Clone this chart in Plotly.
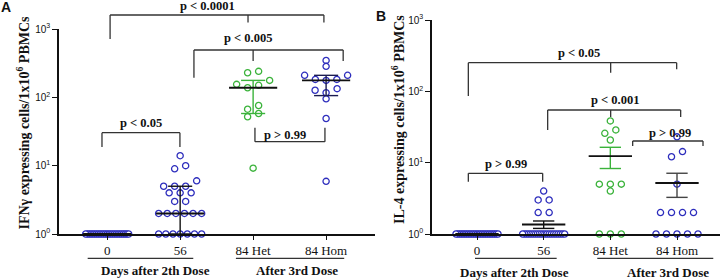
import numpy as np
import plotly.graph_objects as go

# ---------------- data ----------------
categories = ["0", "56", "84 Het", "84 Hom"]
group_labels = ["Days after 2th Dose", "After 3rd Dose"]
tick_vals_log = [0, 1, 2, 3]
tick_text = ["10<sup>0</sup>", "10<sup>1</sup>", "10<sup>2</sup>", "10<sup>3</sup>"]

# Panel A: IFNγ (median with interquartile range)
ifn_day0 = [1, 1, 1, 1, 1, 1, 1, 1, 1, 1, 1, 1, 1, 1, 1, 1, 1, 1, 1, 1, 1, 1, 1, 1, 1]
ifn_day56 = [14, 10, 9, 6, 5, 5, 5, 4, 4, 4, 3, 3, 2, 2, 2, 2, 2, 2, 1, 1, 1, 1, 1, 1, 1]
ifn_het = [240, 229, 177, 155, 150, 138, 76, 67, 58, 52, 9.2]
ifn_hom = [347, 284, 210, 210, 183, 183, 177, 134, 127, 117, 95, 49, 5.9]

# Panel B: IL-4 (mean ± SEM)
il4_day0 = [1, 1, 1, 1, 1, 1, 1, 1, 1, 1, 1, 1, 1, 1, 1, 1, 1, 1, 1, 1, 1, 1, 1, 1, 1]
il4_day56 = [4, 3, 3, 2, 2, 1, 1, 1, 1, 1, 1, 1, 1, 1, 1, 1, 1, 1, 1, 1, 1, 1, 1, 1, 1]
il4_het = [38.5, 28.8, 25.8, 20.8, 5, 5, 5, 4, 1, 1, 1]
il4_hom = [23, 14.3, 12.1, 5, 2, 2, 2, 2, 1, 1, 1, 1, 1]

# significance brackets: (text, x_left, x_right, y_bar(log10), legs [(x, y_end log10)], text x, text y log10)
brackets_a = [
    ("p < 0.0001", 0.04, 2.97, 3.205, [(0.04, 2.854), (1.93, 3.095), (2.97, 3.095)], 1.375, 3.34),
    ("p < 0.005", 1.189, 3.234, 2.693, [(1.189, 2.287), (2.0, 2.532), (3.234, 2.532)], 1.933, 2.864),
    ("p < 0.05", -0.071, 0.997, 1.4825, [(-0.071, 1.273), (0.997, 1.273)], 0.47, 1.62),
    ("p > 0.99", 2.025, 2.984, 1.351, [(2.025, 1.556), (2.984, 1.556)], 2.436, 1.449),
]
brackets_b = [
    ("p < 0.05", -0.13, 2.995, 2.4015, [(-0.13, 1.935), (2.005, 2.261), (2.995, 2.309)], 1.53, 2.533),
    ("p < 0.001", 1.06, 3.055, 1.738, [(1.06, 1.458), (2.005, 1.64), (3.055, 1.64)], 2.07, 1.879),
    ("p > 0.99", 2.335, 3.39, 1.304, [(2.335, 1.234), (3.39, 1.234)], 2.895, 1.412),
    ("p > 0.99", -0.13, 0.985, 0.851, [(-0.13, 0.733), (0.985, 0.733)], 0.43, 0.981),
]

# ---------------- styles / layout ----------------
W, H = 721, 280
BLUE = "#2e2ebd"
GREEN = "#3bb33b"
BLACK = "#111111"
SERIF = "Liberation Serif"
SANS = "Liberation Sans"


def px2px(x):
    return x / W


def py2py(y):
    return 1 - y / H


# axis geometry (pixels)
xdom_a = [px2px(59), px2px(375)]
xrng_a = [-0.66, 3.67]
ydom_a = [py2py(234), py2py(29)]
xdom_b = [px2px(432), px2px(720)]
xrng_b = [-0.675, 3.645]
ydom_b = [py2py(234), py2py(20)]

ppu_a = (375 - 59) / (xrng_a[1] - xrng_a[0])
ppu_b = (720 - 432) / (xrng_b[1] - xrng_b[0])
ppd_a = (234 - 29) / 3
ppd_b = (234 - 20) / 3


def swarm_offsets(values, ppd, ppu, spacing_px=11, max_w_px=43, tol_px=5.5, span_px=7.5):
    vals = np.asarray(values, float)
    order = np.argsort(-vals, kind="stable")
    ypx = np.log10(vals) * ppd
    rows, cur = [], []
    for i in order:
        if cur and (ypx[cur[-1]] - ypx[i] > tol_px or ypx[cur[0]] - ypx[i] > span_px):
            rows.append(cur)
            cur = []
        cur.append(i)
    rows.append(cur)
    off = np.zeros(len(vals))
    for row in rows:
        n = len(row)
        if n == 1:
            continue
        s = min(spacing_px, max_w_px / (n - 1))
        slots = (np.arange(n) - (n - 1) / 2) * s
        slot_order = sorted(range(n), key=lambda k: (abs(slots[k]), slots[k]))
        row_sorted = sorted(row, key=lambda i: vals[i])
        for idx, k in zip(row_sorted, slot_order):
            off[idx] = slots[k] / ppu
    return off


fig = go.Figure()


def add_points(vals, cat_idx, color, xa, ya, ppd, ppu, max_w):
    off = swarm_offsets(vals, ppd, ppu, max_w_px=max_w)
    fig.add_trace(go.Scatter(
        x=cat_idx + off, y=vals, mode="markers", xaxis=xa, yaxis=ya,
        marker=dict(symbol="circle", size=6.2, color="white", line=dict(color=color, width=1.3)),
        cliponaxis=False, hoverinfo="skip"))


def add_summary(center, lo, hi, cat_idx, whisk_color, xa, ya, half_c=0.33, half_cap=0.165):
    xs = [cat_idx, cat_idx, None, cat_idx - half_cap, cat_idx + half_cap, None,
          cat_idx - half_cap, cat_idx + half_cap]
    ys = [lo, hi, None, lo, lo, None, hi, hi]
    fig.add_trace(go.Scatter(x=xs, y=ys, mode="lines", xaxis=xa, yaxis=ya,
                             line=dict(color=whisk_color, width=1.4), hoverinfo="skip"))
    fig.add_trace(go.Scatter(x=[cat_idx - half_c, cat_idx + half_c], y=[center, center],
                             mode="lines", xaxis=xa, yaxis=ya,
                             line=dict(color=BLACK, width=1.9), hoverinfo="skip"))


# Panel A
a_groups = [(ifn_day0, BLUE, BLACK), (ifn_day56, BLUE, BLACK), (ifn_het, GREEN, GREEN), (ifn_hom, BLUE, "#1b1b50")]
for i, (vals, col, wcol) in enumerate(a_groups):
    add_points(vals, i, col, "x", "y", ppd_a, ppu_a, 43)
for i, (vals, col, wcol) in enumerate(a_groups):
    q1, med, q3 = np.percentile(vals, [25, 50, 75], method="weibull")
    add_summary(med, q1, q3, i, wcol, "x", "y", half_c=0.33, half_cap=0.165)

# Panel B
b_groups = [(il4_day0, BLUE, BLACK), (il4_day56, BLUE, BLACK), (il4_het, GREEN, GREEN), (il4_hom, BLUE, "#444444")]
for i, (vals, col, wcol) in enumerate(b_groups):
    add_points(vals, i, col, "x2", "y2", ppd_b, ppu_b, 42)
for i, (vals, col, wcol) in enumerate(b_groups):
    v = np.asarray(vals, float)
    m = v.mean()
    sem = v.std(ddof=1) / np.sqrt(len(v))
    add_summary(m, m - sem, m + sem, i, wcol, "x2", "y2", half_c=0.325, half_cap=0.16)

axis_common = dict(showgrid=False, zeroline=False, showline=True, linecolor=BLACK,
                   linewidth=1.5, ticks="outside", tickcolor=BLACK, automargin=False)

fig.update_layout(
    width=W, height=H, margin=dict(l=0, r=0, t=0, b=0),
    paper_bgcolor="white", plot_bgcolor="white", showlegend=False,
    xaxis=dict(domain=xdom_a, range=xrng_a, anchor="y", tickvals=[0, 1, 2, 3], ticktext=categories,
               ticklen=4, tickwidth=1.3, tickfont=dict(family=SERIF, size=13, color=BLACK), **axis_common),
    yaxis=dict(domain=ydom_a, range=[0, 3], type="log", anchor="x", tickvals=[10 ** t for t in tick_vals_log],
               ticktext=tick_text, ticklen=5, tickwidth=1.3,
               tickfont=dict(family=SANS, size=10, color=BLACK), **axis_common),
    xaxis2=dict(domain=xdom_b, range=xrng_b, anchor="y2", tickvals=[0, 1, 2, 3], ticktext=categories,
                ticklen=4, tickwidth=1.3, tickfont=dict(family=SERIF, size=13, color=BLACK), **axis_common),
    yaxis2=dict(domain=ydom_b, range=[0, 3], type="log", anchor="x2", tickvals=[10 ** t for t in tick_vals_log],
                ticktext=tick_text, ticklen=5, tickwidth=1.3,
                tickfont=dict(family=SANS, size=10, color=BLACK), **axis_common),
)


def ypaper(dom, logv):
    return dom[0] + logv / 3 * (dom[1] - dom[0])


shapes, annots = [], []
LINE = dict(color="#333333", width=1.3)
for brs, xr, dom in ((brackets_a, "x", ydom_a), (brackets_b, "x2", ydom_b)):
    for text, x0, x1, yb, legs, tx, ty in brs:
        shapes.append(dict(type="line", xref=xr, yref="paper", x0=x0, x1=x1,
                           y0=ypaper(dom, yb), y1=ypaper(dom, yb), line=LINE))
        for lx, ly in legs:
            shapes.append(dict(type="line", xref=xr, yref="paper", x0=lx, x1=lx,
                               y0=ypaper(dom, yb), y1=ypaper(dom, ly), line=LINE))
        annots.append(dict(text="<b>" + text + "</b>", xref=xr, yref="paper", x=tx, y=ypaper(dom, ty),
                           showarrow=False, xanchor="center", yanchor="middle",
                           font=dict(family=SERIF, size=12.5, color=BLACK)))

# group underlines and labels
groups_a = [(-0.267, 1.18, 0.663), (1.764, 3.248, 2.607)]
groups_b = [(-0.03, 1.195, 0.566), (1.804, 3.544, 2.87)]
for grp, xr, ly in ((groups_a, "x", 270.5), (groups_b, "x2", 272.5)):
    for (g0, g1, gc), lab in zip(grp, group_labels):
        shapes.append(dict(type="line", xref=xr, yref="paper", x0=g0, x1=g1,
                           y0=py2py(258.3), y1=py2py(258.3), line=dict(color="#333333", width=1.2)))
        annots.append(dict(text="<b>" + lab + "</b>", xref=xr, yref="paper", x=gc, y=py2py(ly),
                           showarrow=False, xanchor="center", yanchor="middle",
                           font=dict(family=SERIF, size=13, color=BLACK)))

# y-axis titles
annots.append(dict(text="<b>IFNγ expressing cells/1x10<sup>6</sup> PBMCs</b>", xref="paper", yref="paper",
                   x=px2px(23), y=py2py(122.5), textangle=-90, showarrow=False,
                   xanchor="center", yanchor="middle", font=dict(family=SERIF, size=14, color=BLACK)))
annots.append(dict(text="<b>IL-4 expressing cells/1x10<sup>6</sup> PBMCs</b>", xref="paper", yref="paper",
                   x=px2px(398), y=py2py(120), textangle=-90, showarrow=False,
                   xanchor="center", yanchor="middle", font=dict(family=SERIF, size=14, color=BLACK)))

# panel letters
annots.append(dict(text="<b>A</b>", xref="paper", yref="paper", x=px2px(6), y=py2py(7), showarrow=False,
                   xanchor="center", yanchor="middle", font=dict(family=SANS, size=14, color=BLACK)))
annots.append(dict(text="<b>B</b>", xref="paper", yref="paper", x=px2px(381), y=py2py(16), showarrow=False,
                   xanchor="center", yanchor="middle", font=dict(family=SANS, size=14, color=BLACK)))

fig.update_layout(shapes=shapes, annotations=annots)
fig.write_html("out.html", config={"displayModeBar": False},
               post_script="document.body.style.margin='0';document.body.style.overflow='hidden';")
